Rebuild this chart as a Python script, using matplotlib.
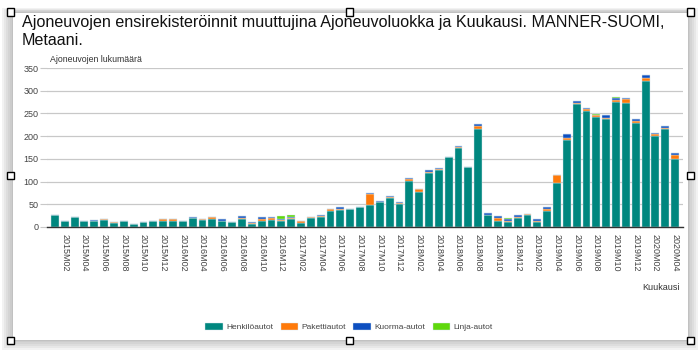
import matplotlib
matplotlib.use("Agg")
import matplotlib.pyplot as plt
from matplotlib.patches import Rectangle
import numpy as np

months = [f"{y}M{m:02d}" for y in range(2015, 2021) for m in range(1, 13)][:64]

henkiloautot = [26, 14, 21, 14, 14, 15, 8, 14, 6, 10, 13, 14, 14, 13, 19, 15,
                18, 13, 10, 18, 7, 14, 15, 13, 18, 9, 19, 22, 35, 38, 40, 43,
                48, 54, 63, 51, 102, 76, 119, 126, 154, 173, 131, 216, 26, 13, 10, 20,
                27, 11, 36, 96, 191, 270, 256, 243, 238, 276, 273, 229, 321, 200, 216, 149]
pakettiautot = [1, 0, 2, 0, 0, 3, 2, 0, 1, 2, 1, 3, 3, 1, 0, 2,
                3, 1, 0, 2, 2, 4, 4, 3, 2, 5, 3, 2, 4, 2, 0, 2,
                24, 1, 3, 2, 4, 7, 3, 2, 1, 3, 2, 6, 1, 6, 4, 2,
                2, 3, 3, 18, 6, 4, 4, 4, 2, 4, 8, 5, 7, 5, 3, 9]
kuorma_autot = [0, 0, 0, 0, 1, 0, 0, 0, 0, 0, 0, 1, 0, 0, 2, 1,
                0, 3, 1, 5, 2, 3, 2, 2, 2, 0, 1, 2, 1, 3, 0, 0,
                2, 2, 2, 1, 2, 0, 3, 2, 0, 2, 0, 4, 3, 5, 3, 4,
                0, 3, 4, 1, 7, 3, 1, 0, 7, 4, 2, 3, 7, 1, 4, 4]
linja_autot = [0] * 64
linja_autot[23] = 6
linja_autot[24] = 5
linja_autot[46] = 2
linja_autot[54] = 2
linja_autot[55] = 2
linja_autot[57] = 2

series = [("Henkilöautot", henkiloautot, "#00877f"),
          ("Pakettiautot", pakettiautot, "#ff7a0a"),
          ("Kuorma-autot", kuorma_autot, "#0d4fc0"),
          ("Linja-autot", linja_autot, "#5fd80c")]

title = "Ajoneuvojen ensirekisteröinnit muuttujina Ajoneuvoluokka ja Kuukausi. MANNER-SUOMI,\nMetaani."
ylabel = "Ajoneuvojen lukumäärä"
xlabel = "Kuukausi"

plt.rcParams['font.family'] = ['Liberation Sans', 'DejaVu Sans']

W, H = 700, 352
fig = plt.figure(figsize=(W / 100, H / 100), dpi=100)

def px(x0, y0, w, h, **kw):
    return Rectangle((x0 / W, 1 - (y0 + h) / H), w / W, h / H,
                     transform=fig.transFigure, **kw)

# shadow and panel frame
for i in range(5):
    d = 10 - 2 * i
    fig.add_artist(px(12 - d, 12 - d * 0.4, 676 + 2 * d, 328 + d * 1.4,
                      facecolor="#888888", edgecolor="none", alpha=0.10, zorder=-3))
fig.add_artist(px(12, 12, 676, 328, facecolor="white", edgecolor="#bbbbbb",
                  linewidth=0.6, zorder=-2))
for (hx, hy) in [(10, 12), (349, 12), (690, 12), (10, 176), (690, 176),
                 (10, 340), (349, 340), (690, 340)]:
    fig.add_artist(px(hx - 3.5, hy - 3.5, 7, 7, facecolor="white",
                      edgecolor="black", linewidth=1.0, zorder=10))

ax = fig.add_axes([47 / W, 1 - 227 / H, (683 - 47) / W, (227 - 68) / H])
ax.set_zorder(1)
ax.set_facecolor("none")
x = np.arange(len(months))
bottom = np.zeros(len(months))
handles = []
for name, vals, col in series:
    v = np.array(vals, dtype=float)
    b = ax.bar(x, v, bottom=bottom, width=0.8, color=col, edgecolor="#d6e4ec",
               linewidth=0.3, label=name, zorder=3)
    handles.append(b)
    bottom += v

ax.set_ylim(0, 350)
ax.set_xlim(-0.8, len(months) - 0.2)
ax.set_yticks(range(0, 351, 50))
ax.yaxis.grid(True, color="#c8c8c8", linewidth=0.9, zorder=0)
ax.set_axisbelow(True)
ax.tick_params(axis="y", length=5, color="#c8c8c8", labelsize=6.5,
               labelcolor="#444444", pad=1)
ax.set_xticks(x[1::2])
ax.set_xticklabels(months[1::2], rotation=270, fontsize=6.5, color="#444444")
ax.tick_params(axis="x", length=0, pad=5)
for s in ["top", "right", "left"]:
    ax.spines[s].set_visible(False)
ax.spines["bottom"].set_color("#333333")
ax.spines["bottom"].set_linewidth(1.0)
ax.spines["bottom"].set_zorder(4)

fig.text(22 / W, 1 - 15 / H, title, fontsize=11.6, va="top", ha="left",
         color="#111111", linespacing=1.22)
fig.text(50 / W, 1 - 62 / H, ylabel, fontsize=6.3, color="#333333",
         va="baseline", ha="left")
fig.text(680 / W, 1 - 290 / H, xlabel, fontsize=6.5, color="#333333",
         va="baseline", ha="right")

leg = fig.legend(handles=handles, loc="center", bbox_to_anchor=(349 / W, 1 - 327 / H),
                 ncol=4, frameon=False, fontsize=6, handlelength=2.1,
                 handleheight=0.9, columnspacing=0.9, handletextpad=0.4)
for t in leg.get_texts():
    t.set_color("#444444")

fig.savefig("out.png", dpi=100)
